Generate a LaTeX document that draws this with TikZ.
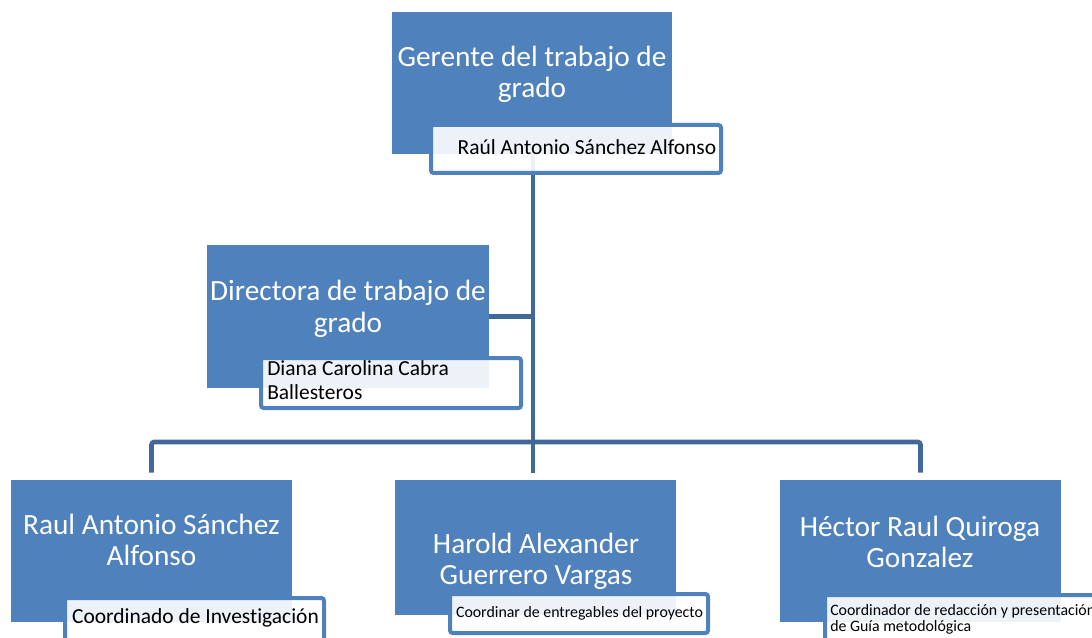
\documentclass[tikz,border=0pt]{standalone}
\usepackage{fontspec}
\setmainfont{Carlito}[Ligatures = CommonOff]
\usetikzlibrary{fit}
\definecolor{boxblue}{RGB}{79,129,189}
\definecolor{linkblue}{RGB}{64,104,153}
\tikzset{
  box/.style = {fill = boxblue, inner sep = 0pt},
  lab/.style = {draw = boxblue, line width = 3pt, fill = white, fill opacity = .9,
                rounded corners = 2pt, inner sep = 0pt},
  bigtxt/.style = {text = white, align = center, inner sep = 0pt,
                   font = \fontsize{22pt}{23.5pt}\selectfont},
  labtxt/.style = {inner sep = 0pt, font = \fontsize{16.1pt}{18pt}\selectfont},
  smalltxt/.style = {inner sep = 0pt, align = left, font = \fontsize{11.9pt}{12.5pt}\selectfont},
  conn/.style = {draw = linkblue, line width = 3.4pt, rounded corners = 2pt}
}
\begin{document}
\begin{tikzpicture}[x = .75pt, y = -.75pt]
      \clip (0,0) rectangle (1092,638);
      % boxes
      \node [box, fit = {(392,12) (672,154)}] (gerente) {};
      \node [box, fit = {(207,245) (489,388)}] (directora) {};
      \node [box, fit = {(11,480) (292,622)}] (raul) {};
      \node [box, fit = {(395,480) (676,615)}] (harold) {};
      \node [box, fit = {(780,480) (1061,622)}] (hector) {};
      % connectors
      \coordinate (spine) at (533,442);
      \draw [conn] (gerente.south -| spine) -- (spine);
      \draw [conn] (directora.east) -- (directora.east -| spine);
      \draw [conn] ([yshift = 5.25pt]raul.north) |- (spine)
            -| ([yshift = 5.25pt]hector.north);
      \draw [conn] (spine) -- ([yshift = 5.25pt]harold.north -| spine);
      % role labels
      \node [lab, fit = {(431,125) (721,173)}] (gerenteLab) {};
      \node [lab, fit = {(261,358) (521,408)}] (directoraLab) {};
      \node [lab, fit = {(65,598) (324,650)}] (raulLab) {};
      \node [lab, fit = {(450,594) (708,633)}] (haroldLab) {};
      \node [lab, fit = {(825,595) (1120,660)}] (hectorLab) {};
      % texts
      \node [bigtxt] (gerenteTxt) at (532,74.5) {Gerente del trabajo de\\grado};
      \node [bigtxt] (directoraTxt) at (348,309) {Directora de trabajo de\\grado};
      \node [bigtxt] (raulTxt) at (151.5,540) {Raul Antonio Sánchez\\Alfonso};
      \node [bigtxt] (haroldTxt) at (536,561.5) {Harold Alexander\\Guerrero Vargas};
      \node [bigtxt] (hectorTxt) at (920,542) {Héctor Raul Quiroga\\Gonzalez};
      \node [labtxt, anchor = base] (gerenteName) at (587,155) {Raúl Antonio Sánchez Alfonso};
      \node [labtxt, anchor = west, align = left] (directoraName) at (267,380.5)
            {Diana Carolina Cabra\\Ballesteros};
      \node [labtxt, anchor = base] (raulRole) at (195.5,623) {Coordinado de Investigación};
      \node [smalltxt, anchor = base] (haroldRole) at (579.5,617) {Coordinar de entregables del proyecto};
      \node [smalltxt, anchor = west] (hectorRole) at (830,619.5)
            {Coordinador de redacción y presentación\\de Guía metodológica};
\end{tikzpicture}
\end{document}
